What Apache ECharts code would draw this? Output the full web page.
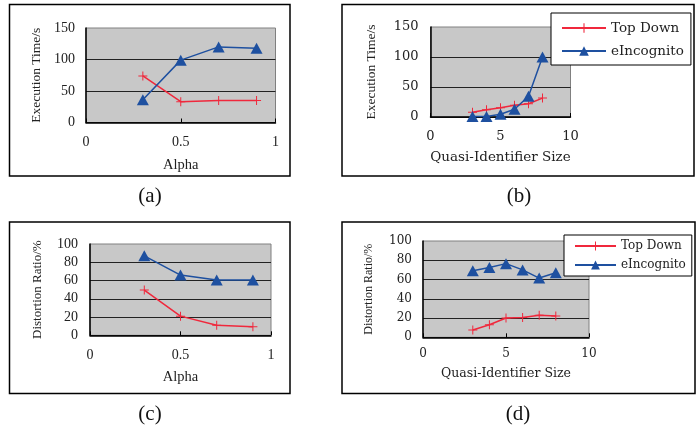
<!DOCTYPE html>
<html>
<head>
<meta charset="utf-8">
<script src="https://cdn.jsdelivr.net/npm/echarts@6/dist/echarts.min.js"></script>
<style>html,body{margin:0;padding:0;background:#fff}#c{width:700px;height:428px}</style>
</head>
<body>
<div id="c"></div>
<script>
// ---- data ----
const seriesNames = ['Top Down', 'eIncognito'];
const alphaX = [0.3, 0.5, 0.7, 0.9];
const qiX = [3, 4, 5, 6, 7, 8];
const execAlphaTop = [74, 33, 35, 35];
const execAlphaInc = [36, 99, 120, 118];
const execQiTop = [8, 12, 15.5, 19.5, 22, 31.5];
const execQiInc = [1, 1, 4.5, 13, 34.5, 100];
const distAlphaTop = [49.5, 21, 11, 9.5];
const distAlphaInc = [87, 66, 60.5, 60.5];
const distQiTop = [7.5, 13, 20, 20.5, 23, 22];
const distQiInc = [69, 72.5, 76.5, 70, 61.5, 67];
const captions = ['(a)', '(b)', '(c)', '(d)'];
const xTitles = ['Alpha', 'Quasi-Identifier Size', 'Alpha', 'Quasi-Identifier Size'];
const yTitles = ['Execution Time/s', 'Execution Time/s', 'Distortion Ratio/%', 'Distortion Ratio/%'];

const RED = '#f0283c', BLUE = '#1e50a0';
const PLUS = 'path://M4,0H5V4H9V5H5V9H4V5H0V4H4Z';
const pairs = (xs, ys) => xs.map((x, i) => [x, ys[i]]);

const serifA = 'Liberation Serif';
const serifB = 'DejaVu Serif';

const grids = [
  {left: 86, top: 28, width: 189.5, height: 94.5},
  {left: 430.5, top: 27, width: 140, height: 90},
  {left: 90, top: 244, width: 181, height: 91.3},
  {left: 423, top: 241, width: 166, height: 96.3}
].map(g => Object.assign(g, {show: true, backgroundColor: '#c8c8c8', borderColor: '#808080', borderWidth: 1}));

const xCfg = [
  {max: 1, interval: 0.5, font: serifA, size: 14, margin: 13, nsize: 14.5, gap: 35},
  {max: 10, interval: 5, font: serifB, size: 13, margin: 13, nsize: 13.5, gap: 33},
  {max: 1, interval: 0.5, font: serifA, size: 14, margin: 13, nsize: 14.5, gap: 34},
  {max: 10, interval: 5, font: serifB, size: 12, margin: 11, nsize: 12.5, gap: 30}
];
const yCfg = [
  {max: 150, interval: 50, font: serifA, size: 14, margin: 11, nsize: 13.5, gap: 43},
  {max: 150, interval: 50, font: serifB, size: 13, margin: 12, nsize: 13.5, gap: 52},
  {max: 100, interval: 20, font: serifA, size: 14, margin: 12, nsize: 13, gap: 46},
  {max: 100, interval: 20, font: serifB, size: 12, margin: 11, nsize: 12, gap: 48}
];

const xAxis = xCfg.map((c, i) => ({
  type: 'value', gridIndex: i, min: 0, max: c.max, interval: c.interval,
  name: xTitles[i], nameLocation: 'middle', nameGap: c.gap,
  nameTextStyle: {fontFamily: c.font, fontSize: c.nsize, color: '#222'},
  axisLine: {show: true, onZero: false, lineStyle: {color: '#000', width: 1.5}},
  axisTick: {show: true, inside: true, length: 4, lineStyle: {color: '#000'}},
  axisLabel: {fontFamily: c.font, fontSize: c.size, color: '#222', margin: c.margin},
  splitLine: {show: false}
}));
const yAxis = yCfg.map((c, i) => ({
  type: 'value', gridIndex: i, min: 0, max: c.max, interval: c.interval,
  name: yTitles[i], nameLocation: 'middle', nameGap: c.gap, nameRotate: 90,
  nameTextStyle: {fontFamily: serifA, fontSize: c.nsize, color: '#222'},
  axisLine: {show: true, lineStyle: {color: '#000', width: 1.5}},
  axisTick: {show: false},
  axisLabel: {fontFamily: c.font, fontSize: c.size, color: '#222', margin: c.margin},
  splitLine: {show: true, showMaxLine: false, lineStyle: {color: '#222', width: 1}}
}));

const sets = [
  [alphaX, execAlphaTop, execAlphaInc],
  [qiX, execQiTop, execQiInc],
  [alphaX, distAlphaTop, distAlphaInc],
  [qiX, distQiTop, distQiInc]
];
const series = [];
sets.forEach((s, i) => {
  series.push({
    name: seriesNames[0], type: 'line', xAxisIndex: i, yAxisIndex: i,
    data: pairs(s[0], s[1]), symbol: PLUS, symbolSize: 9,
    lineStyle: {color: RED, width: 1.5}, itemStyle: {color: RED},
    animation: false, z: 2
  });
  series.push({
    name: seriesNames[1], type: 'line', xAxisIndex: i, yAxisIndex: i,
    data: pairs(s[0], s[2]), symbol: 'triangle', symbolSize: [12, 11],
    lineStyle: {color: BLUE, width: 1.5}, itemStyle: {color: BLUE},
    animation: false, z: 3
  });
});

const legendBase = {
  orient: 'vertical', data: seriesNames, backgroundColor: '#fff',
  borderColor: '#000', borderWidth: 1, borderRadius: 0, selectedMode: false
};
const legend = [
  Object.assign({}, legendBase, {left: 551, top: 13, padding: [8, 7, 7, 10], itemWidth: 44, itemHeight: 12, itemGap: 9,
    textStyle: {fontFamily: serifB, fontSize: 13.5, color: '#222'}}),
  Object.assign({}, legendBase, {left: 564, top: 235, padding: [5, 6, 5, 10], itemWidth: 41, itemHeight: 11, itemGap: 7,
    textStyle: {fontFamily: serifB, fontSize: 12, color: '#222'}})
];

const boxes = [[9.5, 4.5, 280.5, 171.5], [342, 4.5, 352, 171.5], [9.5, 222, 280.5, 171.5], [342, 222, 353, 171.5]];
const capPos = [[150, 196], [519, 196], [150, 414], [518, 414]];
const graphic = [];
boxes.forEach(b => graphic.push({type: 'rect', z: -10, shape: {x: b[0], y: b[1], width: b[2], height: b[3]},
  style: {fill: '#fff', stroke: '#000', lineWidth: 1.5}}));
captions.forEach((t, i) => graphic.push({type: 'text', x: capPos[i][0], y: capPos[i][1],
  style: {text: t, fontFamily: serifA, fontSize: 21, fill: '#111', textAlign: 'center', textVerticalAlign: 'middle'}}));

const chart = echarts.init(document.getElementById('c'));
chart.setOption({animation: false, grid: grids, xAxis, yAxis, series, legend, graphic});
</script>
</body>
</html>
